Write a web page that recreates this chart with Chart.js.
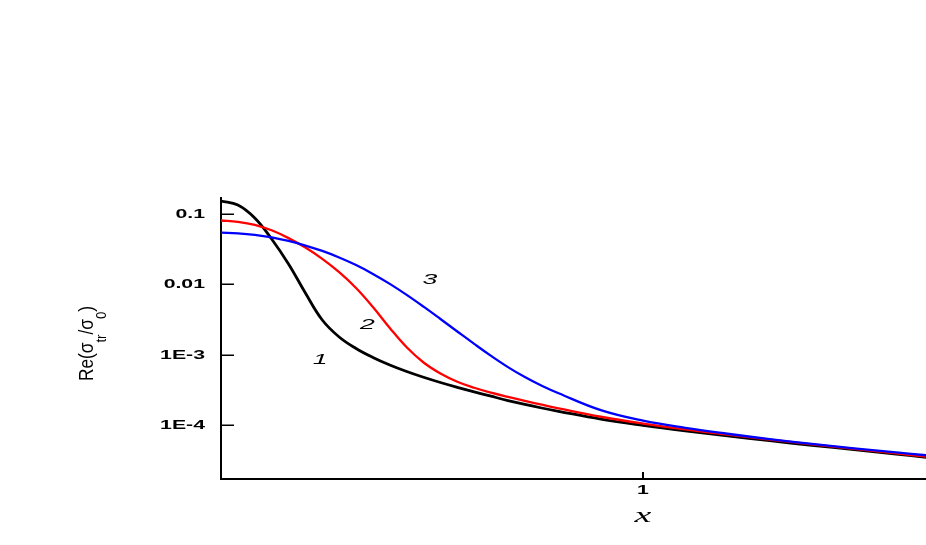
<!DOCTYPE html>
<html>
<head>
<meta charset="utf-8">
<script src="https://cdn.jsdelivr.net/npm/chart.js@4/dist/chart.umd.min.js"></script>
<style>
  html, body { margin: 0; padding: 0; background: #fff; }
  #wrap { width: 926px; height: 545px; }
</style>
</head>
<body>
<div id="wrap"><canvas id="graph" width="926" height="545"></canvas></div>
<script>
// donnees (meme grille x pour les 3 courbes)
const xGrid = [0, 0.04, 0.08, 0.12, 0.16, 0.20, 0.24, 0.28, 0.32, 0.36, 0.40, 0.44, 0.48, 0.52, 0.56, 0.60, 0.64, 0.68, 0.72, 0.76, 0.80,
               0.9, 1.0, 1.1, 1.2, 1.3, 1.4, 1.5, 1.6, 1.671];

const courbe1 = [0.1529, 0.1342, 0.0878, 0.0442, 0.01954, 0.007574, 0.003137, 0.00180, 0.001237, 9.22e-4, 7.21e-4, 5.83e-4, 4.83e-4, 4.07e-4, 3.48e-4, 3.00e-4, 2.60e-4, 2.26e-4, 1.99e-4, 1.77e-4, 1.59e-4,
                 1.23e-4, 1.003e-4, 8.38e-5, 7.12e-5, 6.09e-5, 5.24e-5, 4.54e-5, 3.94e-5, 3.54e-5];

const courbe2 = [0.0809, 0.0775, 0.0703, 0.0587, 0.0455, 0.0334, 0.0231, 0.01494, 0.00892, 0.004797, 0.002415, 0.001286, 7.83e-4, 5.47e-4, 4.18e-4, 3.43e-4, 2.92e-4, 2.54e-4, 2.23e-4, 1.97e-4, 1.75e-4,
                 1.33e-4, 1.064e-4, 8.78e-5, 7.40e-5, 6.31e-5, 5.41e-5, 4.66e-5, 4.02e-5, 3.62e-5];

const courbe3 = [0.0543, 0.0532, 0.0507, 0.0467, 0.0415, 0.0357, 0.0299, 0.02415, 0.01885, 0.01414, 0.0102, 0.00712, 0.004843, 0.00324, 0.002154, 0.001437, 9.71e-4, 6.73e-4, 4.86e-4, 3.66e-4, 2.86e-4,
                 1.65e-4, 1.17e-4, 9.25e-5, 7.63e-5, 6.41e-5, 5.48e-5, 4.75e-5, 4.15e-5, 3.78e-5];

const yTickValues = [0.1, 0.01, 0.001, 0.0001];
const yTickLabels = ['0.1', '0.01', '1E-3', '1E-4'];
const xTickValues = [1];
const xTickLabels = ['1'];

// numeros des courbes (coordonnees en unites des axes)
const curveNames = ['1', '2', '3'];
const curveNameX = [0.235, 0.347, 0.495];
const curveNameY = [8.49e-4, 2.67e-3, 0.0116];

function toPoints(xs, ys) {
    var pts = [];
    for (var i = 0; i < xs.length; i++) {
        pts.push({x: xs[i], y: ys[i]});
    }
    return pts;
}

function wideText(ctx, text, x, y, sx, align, baseline) {
    ctx.save();
    ctx.translate(x, y);
    ctx.scale(sx, 1);
    ctx.textAlign = align;
    ctx.textBaseline = baseline;
    ctx.fillText(text, 0, 0);
    ctx.restore();
}

const sansFont = '"Liberation Sans", Arial, sans-serif';

// textes et graduations dessines a la main
const habillage = {
    id: 'habillage',
    afterDraw(chart) {
        const ctx = chart.ctx;
        const xs = chart.scales.x;
        const ys = chart.scales.y;
        const area = chart.chartArea;
        ctx.save();
        ctx.strokeStyle = '#000';
        ctx.fillStyle = '#000';

        // graduations y (vers l'interieur)
        ctx.lineWidth = 1.5;
        ctx.font = 'bold 12.5px ' + sansFont;
        ys.ticks.forEach(function (t) {
            const py = Math.round(ys.getPixelForValue(t.value)) + 0.25;
            ctx.beginPath();
            ctx.moveTo(area.left, py);
            ctx.lineTo(area.left + 13, py);
            ctx.stroke();
            const lab = yTickLabels[yTickValues.indexOf(t.value)];
            wideText(ctx, lab, area.left - 16, py, 1.7, 'right', 'middle');
        });

        // graduations x
        ctx.lineWidth = 2;
        xs.ticks.forEach(function (t) {
            const px = xs.getPixelForValue(t.value);
            ctx.beginPath();
            ctx.moveTo(px, area.bottom);
            ctx.lineTo(px, area.bottom - 7);
            ctx.stroke();
            const lab = xTickLabels[xTickValues.indexOf(t.value)];
            wideText(ctx, lab, px, area.bottom + 12, 1.7, 'center', 'middle');
        });

        // titre x
        ctx.font = 'italic 21px "Liberation Serif", "Times New Roman", serif';
        wideText(ctx, 'x', xs.getPixelForValue(1), 522, 1.8, 'center', 'alphabetic');

        // titre y : Re(σtr/σ0)
        ctx.save();
        ctx.translate(93, 381);
        ctx.rotate(-Math.PI / 2);
        ctx.scale(1.15, 1.3);
        ctx.textAlign = 'left';
        ctx.textBaseline = 'alphabetic';
        var big = '15px ' + sansFont;
        var small = '11.5px ' + sansFont;
        var pos = 0;
        var morceaux = [['Re(σ', big, 0], ['tr', small, 10], ['/σ', big, 0], ['0', small, 10], [')', big, 0]];
        morceaux.forEach(function (m) {
            ctx.font = m[1];
            ctx.fillText(m[0], pos, m[2]);
            pos += ctx.measureText(m[0]).width;
        });
        ctx.restore();

        // numeros des courbes
        ctx.font = 'italic 14px ' + sansFont;
        for (var i = 0; i < curveNames.length; i++) {
            wideText(ctx, curveNames[i], xs.getPixelForValue(curveNameX[i]), ys.getPixelForValue(curveNameY[i]), 1.9, 'center', 'middle');
        }
        ctx.restore();
    }
};

const config = {
    type: 'line',
    data: {
        datasets: [
            {label: '1', data: toPoints(xGrid, courbe1), borderColor: '#000000', borderWidth: 2.8, order: 3},
            {label: '2', data: toPoints(xGrid, courbe2), borderColor: '#ff0000', borderWidth: 2.3, order: 2},
            {label: '3', data: toPoints(xGrid, courbe3), borderColor: '#0000ff', borderWidth: 2.3, order: 1}
        ]
    },
    options: {
        responsive: false,
        devicePixelRatio: 1,
        animation: false,
        layout: {padding: {top: 198, left: 0, right: 0, bottom: 0}},
        elements: {
            point: {radius: 0},
            line: {tension: 0.4, fill: false, borderCapStyle: 'round', borderJoinStyle: 'round'}
        },
        plugins: {legend: {display: false}, tooltip: {enabled: false}},
        scales: {
            x: {
                type: 'linear',
                min: 0,
                max: 1.6706,
                grid: {display: false},
                border: {display: true, color: '#000', width: 2},
                ticks: {display: false},
                afterBuildTicks: function (s) { s.ticks = xTickValues.map(function (v) { return {value: v}; }); },
                afterFit: function (s) { s.height = 66; }
            },
            y: {
                type: 'logarithmic',
                min: 1.741e-5,
                max: 0.1686,
                grid: {display: false},
                border: {display: true, color: '#000', width: 2},
                ticks: {display: false},
                afterBuildTicks: function (s) { s.ticks = yTickValues.map(function (v) { return {value: v}; }); },
                afterFit: function (s) { s.width = 221; }
            }
        }
    },
    plugins: [habillage]
};

window.onload = function () {
    var ctx = document.getElementById('graph').getContext('2d');
    new Chart(ctx, config);
};
</script>
</body>
</html>
